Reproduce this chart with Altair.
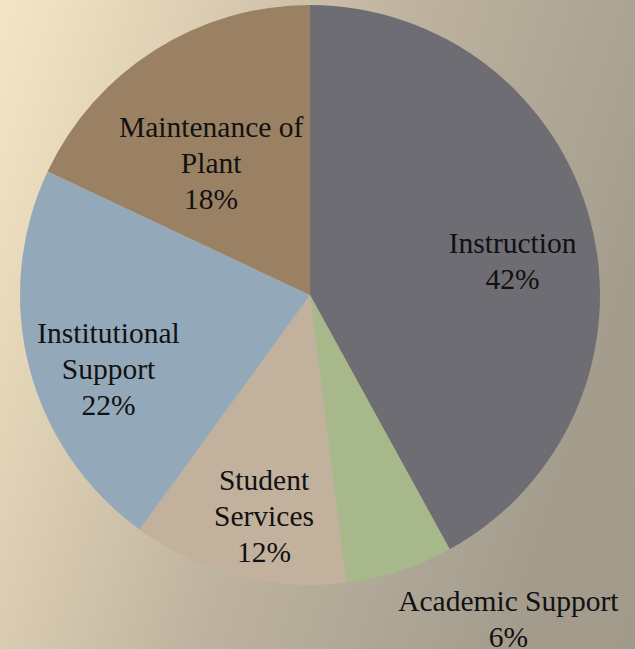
import altair as alt
import pandas as pd

# ---- data ----
categories = ["Instruction", "Academic Support", "Student Services",
              "Institutional Support", "Maintenance of Plant"]
label_lines = [["Instruction"], ["Academic Support"], ["Student", "Services"],
               ["Institutional", "Support"], ["Maintenance of", "Plant"]]
shares = [42, 6, 12, 22, 18]
colors = ["#6e6d73", "#a7b88a", "#c2b19d", "#93a9ba", "#9b8163"]

cum = []
acc = 0
for s in shares:
    cum.append(acc + s / 2)
    acc += s

df = pd.DataFrame({
    "category": categories,
    "share": shares,
    "order": list(range(len(categories))),
    "mid": cum,
    "label": ["\n".join(l + [f"{s}%"]) for l, s in zip(label_lines, shares)],
})

W, H = 635, 649
FONT = "Liberation Serif"
LH = 36

# background gradient
gradient = alt.LinearGradient(
    gradient="linear",
    stops=[
        alt.GradientStop(color="#f3e6c8", offset=0),
        alt.GradientStop(color="#e9dabb", offset=0.12),
        alt.GradientStop(color="#bdb29e", offset=0.49),
        alt.GradientStop(color="#aba393", offset=0.74),
        alt.GradientStop(color="#a39b8b", offset=0.85),
        alt.GradientStop(color="#a29a8b", offset=1),
    ],
    x1=0, y1=0, x2=1.21, y2=0.414,
)
bg = alt.Chart(pd.DataFrame({"a": [0]})).mark_rect(fill=gradient).encode(
    x=alt.value(0), x2=alt.value(W), y=alt.value(0), y2=alt.value(H)
)

arcs = alt.Chart(df).mark_arc(outerRadius=290).encode(
    theta=alt.Theta("share:Q", stack=True, scale=alt.Scale(domain=[0, 100])),
    color=alt.Color("category:N", scale=alt.Scale(domain=categories, range=colors), legend=None),
    order=alt.Order("order:Q"),
)

# label placement (pixel nudges from the slice midpoint at radius 205)
nudges = {
    "Instruction": (4, 18),
    "Academic Support": (135, 130),
    "Student Services": (5, 23),
    "Institutional Support": (-3, 24),
    "Maintenance of Plant": (11, 42),
}
texts = []
for cat, lines in zip(categories, label_lines):
    dx, dy = nudges[cat]
    n = len(lines) + 1
    dy = dy - LH * (n - 1) / 2
    texts.append(
        alt.Chart(df).transform_filter(alt.datum.category == cat).mark_text(
            font=FONT, fontSize=29.5, lineBreak="\n", lineHeight=LH,
            color="#111111", dx=dx, dy=dy, align="center", baseline="middle",
        ).encode(
            theta=alt.Theta("mid:Q", scale=alt.Scale(domain=[0, 100])),
            radius=alt.value(205),
            text="label:N",
        )
    )

chart = alt.layer(bg, arcs, *texts).properties(
    width=620, height=590,
    padding={"left": 0, "top": 0, "right": 15, "bottom": 59},
    autosize=alt.AutoSizeParams(type="none"),
    background="#a39b8b",
).configure_view(stroke=None)

chart.save("out.html", embed_options={"renderer": "svg", "actions": False})
